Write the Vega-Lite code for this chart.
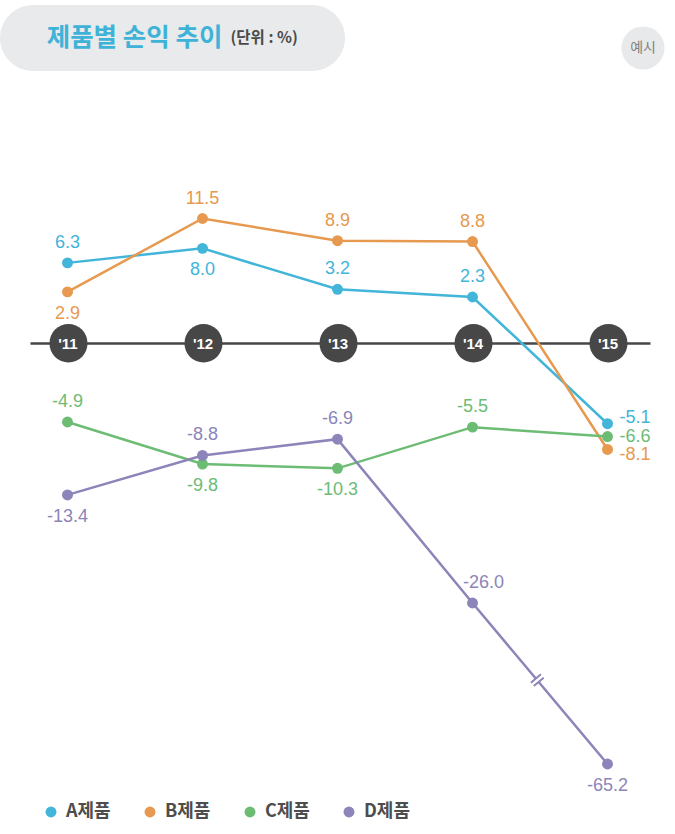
{
  "$schema": "https://vega.github.io/schema/vega-lite/v6.json",
  "padding": {"top": 5, "left": 0, "right": 0, "bottom": 0},
  "background": "white",
  "spacing": 0,
  "config": {
    "view": {"stroke": null},
    "locale": {"number": {"decimal": ".", "thousands": ",", "grouping": [3], "currency": ["", ""], "minus": "-"}}
  },
  "vconcat": [
    {
      "spacing": 268,
      "hconcat": [
        {
          "width": 345,
          "height": 66,
          "view": {"fill": "#e9eaec", "cornerRadius": 33, "stroke": null},
          "data": {"values": [{"title": "제품별 손익 추이", "unit": "(단위 : %)"}]},
          "layer": [
            {
              "mark": {"type": "text", "align": "right", "baseline": "middle", "dx": 50, "font": "Noto Sans CJK KR", "fontSize": 25.5, "fontWeight": "bold", "color": "#3fb3d7"},
              "encoding": {"text": {"field": "title"}}
            },
            {
              "mark": {"type": "text", "align": "left", "baseline": "middle", "dx": 58, "font": "Noto Sans CJK KR", "fontSize": 15.5, "fontWeight": "bold", "color": "#4a4a4a"},
              "encoding": {"text": {"field": "unit"}}
            }
          ]
        },
        {
          "width": 60,
          "height": 86,
          "data": {"values": [{"button": "예시"}]},
          "layer": [
            {
              "mark": {"type": "point", "filled": true, "size": 1850, "color": "#e8e9ea", "opacity": 1},
              "encoding": {}
            },
            {
              "mark": {"type": "text", "align": "center", "baseline": "middle", "font": "Noto Sans CJK KR", "fontSize": 14, "color": "#808080"},
              "encoding": {"text": {"field": "button"}}
            }
          ]
        }
      ]
    },
    {
      "width": 675,
      "height": 743,
      "resolve": {"axis": {"x": "independent"}, "legend": {"color": "independent"}},
      "data": {
        "values": [
          {"product": "A제품", "year": 2011, "value": 6.3},
          {"product": "A제품", "year": 2012, "value": 8.0},
          {"product": "A제품", "year": 2013, "value": 3.2},
          {"product": "A제품", "year": 2014, "value": 2.3},
          {"product": "A제품", "year": 2015, "value": -5.1},
          {"product": "B제품", "year": 2011, "value": 2.9},
          {"product": "B제품", "year": 2012, "value": 11.5},
          {"product": "B제품", "year": 2013, "value": 8.9},
          {"product": "B제품", "year": 2014, "value": 8.8},
          {"product": "B제품", "year": 2015, "value": -8.1},
          {"product": "C제품", "year": 2011, "value": -4.9},
          {"product": "C제품", "year": 2012, "value": -9.8},
          {"product": "C제품", "year": 2013, "value": -10.3},
          {"product": "C제품", "year": 2014, "value": -5.5},
          {"product": "C제품", "year": 2015, "value": -6.6},
          {"product": "D제품", "year": 2011, "value": -13.4},
          {"product": "D제품", "year": 2012, "value": -8.8},
          {"product": "D제품", "year": 2013, "value": -6.9},
          {"product": "D제품", "year": 2014, "value": -26.0},
          {"product": "D제품", "year": 2015, "value": -65.2}
        ]
      },
      "encoding": {
        "x": {
          "field": "year",
          "type": "quantitative",
          "scale": {"domain": [2010.7222, 2015.3148], "range": [30, 650], "nice": false, "zero": false},
          "axis": null
        },
        "y": {
          "field": "value",
          "type": "quantitative",
          "scale": {"domain": [-65.2, -26, -4.9, 0, 2.3, 11.5], "range": [673, 512, 331, 252, 206, 127.5], "nice": false, "zero": false},
          "axis": null
        },
        "color": {
          "field": "product",
          "type": "nominal",
          "scale": {"domain": ["A제품", "B제품", "C제품", "D제품"], "range": ["#42b5d9", "#e6994f", "#6cbc74", "#8b85b9"]},
          "legend": null
        }
      },
      "layer": [
        {
          "mark": {"type": "line", "strokeWidth": 2.5},
          "encoding": {
            "x": {
              "field": "year",
              "type": "quantitative",
              "axis": {
                "orient": "top",
                "offset": -252,
                "title": null,
                "grid": false,
                "ticks": false,
                "labels": false,
                "domainColor": "#474747",
                "domainWidth": 2.5,
                "domainCap": "butt",
                "zindex": 0
              }
            }
          }
        },
        {
          "mark": {"type": "point", "filled": true, "size": 120, "opacity": 1},
          "encoding": {
            "x": {
              "field": "year",
              "type": "quantitative",
              "axis": {
                "orient": "top",
                "offset": -252,
                "values": [2011, 2012, 2013, 2014, 2015],
                "format": "d",
                "labelExpr": "\"'\" + slice(datum.label, 2)",
                "title": null,
                "grid": false,
                "domain": false,
                "ticks": true,
                "tickColor": "#474747",
                "tickWidth": 38,
                "tickSize": 0.5,
                "tickCap": "round",
                "tickOpacity": 1,
                "labelColor": "#ffffff",
                "labelFont": "Liberation Sans",
                "labelFontSize": 15,
                "labelFontWeight": "bold",
                "labelBaseline": "middle",
                "labelAlign": "center",
                "labelPadding": -0.5,
                "labelOverlap": false,
                "labelBound": false,
                "labelFlush": false,
                "zindex": 1
              }
            },
            "color": {
              "field": "product",
              "type": "nominal",
              "legend": {
                "orient": "none",
                "legendX": 42,
                "legendY": 712,
                "direction": "horizontal",
                "title": null,
                "padding": 0,
                "symbolType": "circle",
                "symbolSize": 120,
                "symbolOpacity": 1,
                "symbolStrokeWidth": 0,
                "labelFont": "Noto Sans CJK KR",
                "labelFontSize": 18,
                "labelFontWeight": "bold",
                "labelColor": "#4d4d4d",
                "labelOffset": 6,
                "columnPadding": 30
              }
            }
          }
        },
        {
          "transform": [{"filter": "!((datum.product == 'A제품' && datum.year == 2012) || (datum.product == 'B제품' && datum.year == 2011) || (datum.product == 'C제품' && (datum.year == 2012 || datum.year == 2013)) || (datum.product == 'D제품' && (datum.year == 2011 || datum.year == 2014 || datum.year == 2015)) || (datum.year == 2015 && datum.product != 'D제품'))"}],
          "mark": {"type": "text", "font": "Liberation Sans", "fontSize": 18, "baseline": "middle", "align": "center", "dy": -20},
          "encoding": {"text": {"field": "value", "type": "quantitative", "format": ".1f"}}
        },
        {
          "transform": [{"filter": "datum.product == 'D제품' && datum.year == 2014"}],
          "mark": {"type": "text", "font": "Liberation Sans", "fontSize": 18, "baseline": "middle", "align": "center", "dx": 11, "dy": -20},
          "encoding": {"text": {"field": "value", "type": "quantitative", "format": ".1f"}}
        },
        {
          "transform": [{"filter": "(datum.product == 'A제품' && datum.year == 2012) || (datum.product == 'B제품' && datum.year == 2011) || (datum.product == 'C제품' && (datum.year == 2012 || datum.year == 2013)) || (datum.product == 'D제품' && (datum.year == 2011 || datum.year == 2015))"}],
          "mark": {"type": "text", "font": "Liberation Sans", "fontSize": 18, "baseline": "middle", "align": "center", "dy": 22},
          "encoding": {"text": {"field": "value", "type": "quantitative", "format": ".1f"}}
        },
        {
          "transform": [{"filter": "datum.year == 2015 && datum.product == 'A제품'"}],
          "mark": {"type": "text", "font": "Liberation Sans", "fontSize": 18, "baseline": "middle", "align": "left", "dx": 12, "dy": -6},
          "encoding": {"text": {"field": "value", "type": "quantitative", "format": ".1f"}}
        },
        {
          "transform": [{"filter": "datum.year == 2015 && datum.product == 'C제품'"}],
          "mark": {"type": "text", "font": "Liberation Sans", "fontSize": 18, "baseline": "middle", "align": "left", "dx": 12},
          "encoding": {"text": {"field": "value", "type": "quantitative", "format": ".1f"}}
        },
        {
          "transform": [{"filter": "datum.year == 2015 && datum.product == 'B제품'"}],
          "mark": {"type": "text", "font": "Liberation Sans", "fontSize": 18, "baseline": "middle", "align": "left", "dx": 12, "dy": 6},
          "encoding": {"text": {"field": "value", "type": "quantitative", "format": ".1f"}}
        },
        {
          "data": {"values": [{"year": 2014.48, "value": -44.8}]},
          "mark": {"type": "point", "shape": "M-0.141,-0.169L0.141,0.169", "size": 400, "filled": false, "strokeWidth": 6, "strokeCap": "butt", "opacity": 1},
          "encoding": {"color": {"value": "#ffffff"}}
        },
        {
          "data": {"values": [{"year": 2014.48, "value": -44.8}]},
          "mark": {"type": "point", "shape": "M-0.639,0.248L0.357,-0.586M-0.357,0.586L0.639,-0.248", "size": 400, "filled": false, "strokeWidth": 2, "strokeCap": "butt", "opacity": 1},
          "encoding": {"color": {"value": "#8b85b9"}}
        }
      ]
    }
  ]
}
